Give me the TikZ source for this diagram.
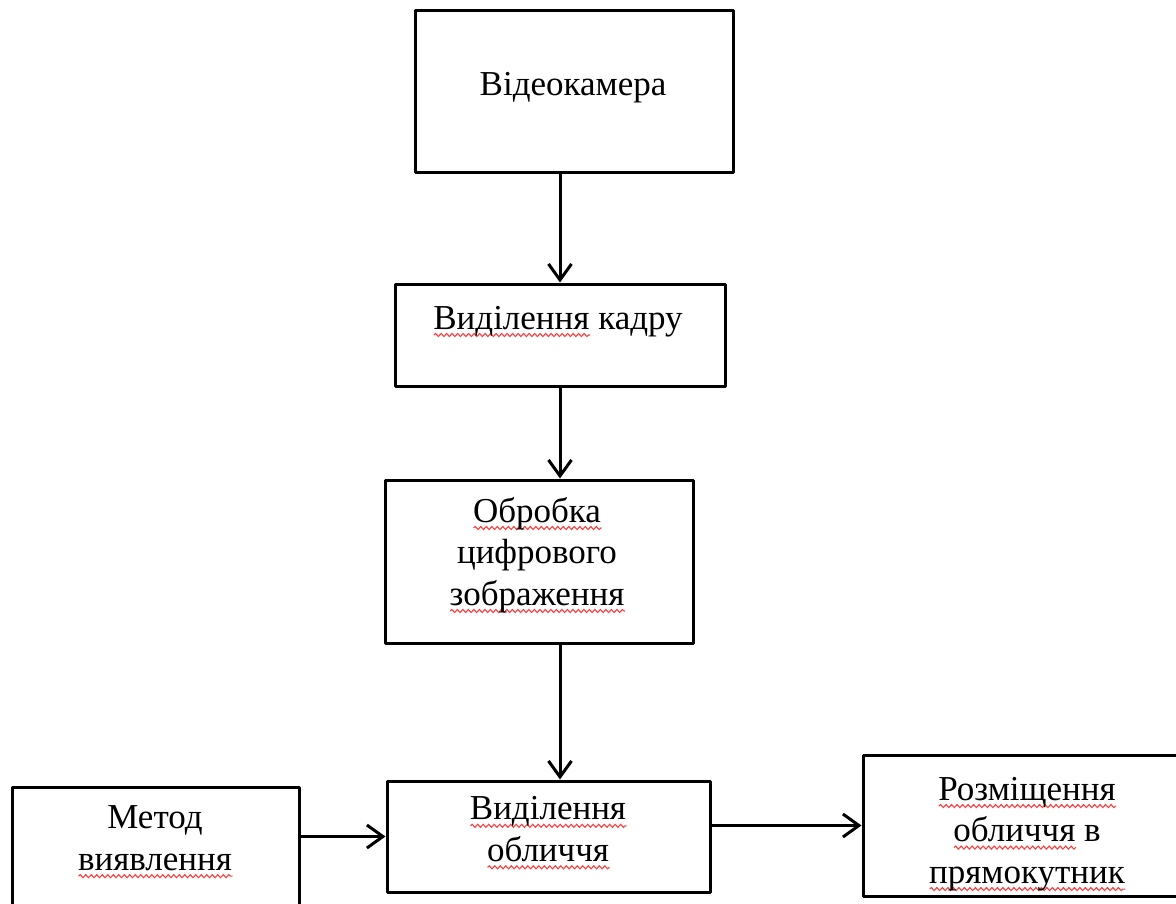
\documentclass[tikz,border=0pt]{standalone}
\usepackage{fontspec}
\setmainfont{Liberation Serif}
\usetikzlibrary{arrows.meta,decorations.pathmorphing}
\definecolor{wavered}{RGB}{255,60,60}
\newsavebox\wavebox
\newlength\wavelen
\newcommand\redwave[1]{\sbox\wavebox{#1}\setlength\wavelen{\wd\wavebox}\leavevmode\rlap{\tikz[baseline=0pt]\draw[wavered,line width=1.1pt,decorate,decoration={snake,amplitude=1.5pt,segment length=5.5pt}] (0pt,-6pt) -- (\wavelen,-6pt);}\usebox\wavebox}
\begin{document}
\begin{tikzpicture}[x=1pt,y=-1pt,
  box/.style={draw, line width=3pt, line join=round, inner sep=0pt},
  lbl/.style={inner sep=0pt, align=center, font=\fontsize{35}{41.5}\selectfont},
  arr/.style={line width=3pt, -{Straight Barb[length=16pt,width=23pt]}}]
\useasboundingbox (0,0) rectangle (1176,903);
\node[box, minimum width=318pt, minimum height=162pt] (b1) at (574,91) {};
\node[box, minimum width=330pt, minimum height=102pt] (b2) at (560,335) {};
\node[box, minimum width=308pt, minimum height=163pt] (b3) at (539,561.5) {};
\node[box, minimum width=323pt, minimum height=111pt] (b4) at (548.5,836.5) {};
\node[box, minimum width=287pt, minimum height=163pt] (b5) at (155.5,868.5) {};
\node[box, minimum width=337pt, minimum height=141pt] (b6) at (1031.5,825.5) {};
\node[lbl, anchor=base] (t1) at (573,95) {Відеокамера};
\node[lbl, anchor=base] (t2) at (558,329) {\redwave{Виділення} кадру};
\node[lbl] (t3) at (537,555) {\redwave{Обробка}\\цифрового\\\redwave{зображення}};
\node[lbl] (t4) at (548,833) {\redwave{Виділення}\\\redwave{обличчя}};
\node[lbl] (t5) at (155,842) {Метод\\\redwave{виявлення}};
\node[lbl] (t6) at (1027,834) {\redwave{Розміщення}\\\redwave{обличчя} в\\\redwave{прямокутник}};
\draw[arr] (b1.south -| b2.north) -- (b2.north);
\draw[arr] (b2.south) -- (b2.south |- b3.north);
\draw[arr] (b3.south -| b2.south) -- (b4.north -| b2.south);
\draw[arr] (b5.east |- b4.west) -- (b4.west);
\draw[arr] (b4.east |- b6.west) -- (b6.west);
\end{tikzpicture}
\end{document}
